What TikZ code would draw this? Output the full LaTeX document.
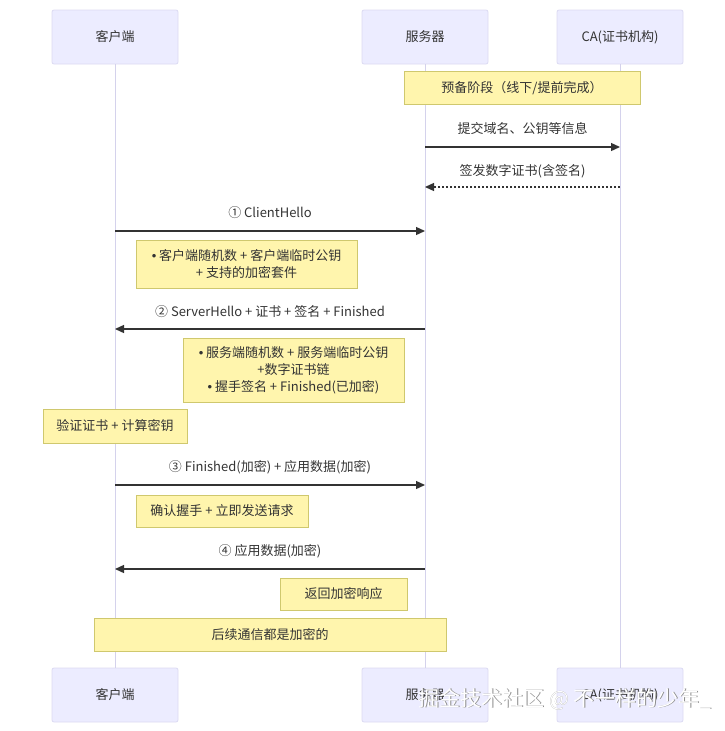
\documentclass[tikz,border=0pt]{standalone}
\usepackage{fontspec}
\setmainfont{Noto Sans CJK SC}
\newfontfamily\latinfont{Liberation Sans}
\newcommand{\bul}{{\latinfont •}\ }
\usetikzlibrary{arrows.meta}
\definecolor{actorfill}{HTML}{ECECFF}
\definecolor{actorline}{HTML}{DCDAF2}
\definecolor{lifecol}{HTML}{D4D2EC}
\definecolor{notefill}{HTML}{FFF5AD}
\definecolor{noteline}{HTML}{CFC86E}
\definecolor{txt}{HTML}{333333}
\tikzset{
  actor/.style={draw=actorline, fill=actorfill, line width=0.8pt, rounded corners=2pt,
    minimum width=126pt, minimum height=54pt, inner sep=0pt, font=\fontsize{13}{15}\selectfont, text=txt},
  notebox/.style={draw=noteline, fill=notefill, line width=0.8pt, inner sep=0pt,
    font=\fontsize{13}{17}\selectfont, text=txt, align=center},
  lifeln/.style={draw=lifecol, line width=1pt},
  msg/.style={draw=txt, line width=1.3pt, -{Triangle[length=9pt,width=8pt]}},
  msgdot/.style={msg, dash pattern=on 2pt off 2pt},
  msglabel/.style={font=\fontsize{13}{15}\selectfont, text=txt, inner sep=0pt},
}
\begin{document}
\begin{tikzpicture}[x=1pt,y=-1pt]
\useasboundingbox (0,0) rectangle (725,731);
% participants
\node[actor] (ct) at (115,37) {客户端};
\node[actor] (st) at (425,37) {服务器};
\node[actor] (at) at (620,37) {CA(证书机构)};
\node[actor] (cb) at (115,695) {客户端};
\node[actor] (sb) at (425,695) {服务器};
\node[actor] (ab) at (620,695) {CA(证书机构)};
% lifelines
\draw[lifeln] (ct.south) -- (cb.north);
\draw[lifeln] (st.south) -- (sb.north);
\draw[lifeln] (at.south) -- (ab.north);
% notes
\node[notebox, minimum width=236pt, minimum height=33pt] (n0) at (522,88) {预备阶段（线下/提前完成）};
\node[notebox, minimum width=221pt, minimum height=48pt] (n1) at (246.5,264) {\bul 客户端随机数 + 客户端临时公钥\\+ 支持的加密套件};
\node[notebox, minimum width=221pt, minimum height=64pt] (n2) at (293.5,370) {\bul 服务端随机数 + 服务端临时公钥\\+数字证书链\\\bul 握手签名 + Finished(已加密)};
\node[notebox, minimum width=144pt, minimum height=34pt] (n3) at (115,426) {验证证书 + 计算密钥};
\node[notebox, minimum width=172pt, minimum height=32pt] (n4) at (222,511) {确认握手 + 立即发送请求};
\node[notebox, minimum width=127pt, minimum height=32pt] (n5) at (343.5,594) {返回加密响应};
\node[notebox, minimum width=352pt, minimum height=33pt] (n6) at (270,634.5) {后续通信都是加密的};
% message endpoints
\coordinate (m1a) at (425,147); \coordinate (m1b) at (620,147);
\coordinate (m2a) at (620,187); \coordinate (m2b) at (425,187);
\coordinate (m3a) at (115,231); \coordinate (m3b) at (425,231);
\coordinate (m4a) at (425,329); \coordinate (m4b) at (115,329);
\coordinate (m5a) at (115,485); \coordinate (m5b) at (425,485);
\coordinate (m6a) at (425,569); \coordinate (m6b) at (115,569);
% messages
\draw[msg] (m1a) -- (m1b);
\node[msglabel] (l1) at (522.5,129) {提交域名、公钥等信息};
\draw[msgdot] (m2a) -- (m2b);
\node[msglabel] (l2) at (522.5,171) {签发数字证书(含签名)};
\draw[msg] (m3a) -- (m3b);
\node[msglabel] (l3) at (270,213) {① ClientHello};
\draw[msg] (m4a) -- (m4b);
\node[msglabel] (l4) at (270,312) {② ServerHello + 证书 + 签名 + Finished};
\draw[msg] (m5a) -- (m5b);
\node[msglabel] (l5) at (270,467) {③ Finished(加密) + 应用数据(加密)};
\draw[msg] (m6a) -- (m6b);
\node[msglabel] (l6) at (270,551) {④ 应用数据(加密)};
% watermark
\node[font=\fontsize{21}{23}\selectfont, text=black!45, inner sep=0pt] (wms) at (565.8,699.8) {掘金技术社区 @ 不一样的少年\_};
\node[font=\fontsize{21}{23}\selectfont, text=white, inner sep=0pt] (wm) at (565,699) {掘金技术社区 @ 不一样的少年\_};
\end{tikzpicture}
\end{document}
